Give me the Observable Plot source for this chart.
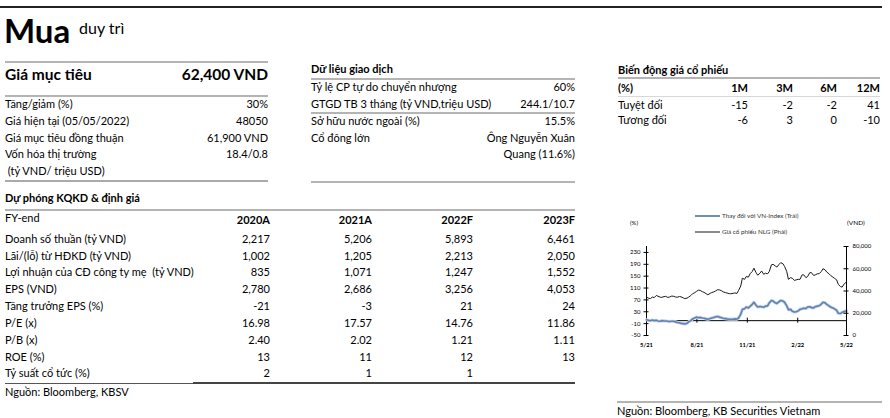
<!DOCTYPE html>
<html><head><meta charset="utf-8">
<script src="https://cdn.jsdelivr.net/npm/d3@7"></script>
<script src="https://cdn.jsdelivr.net/npm/@observablehq/plot@0.6"></script>
<style>
body{margin:0;background:#fff;}
#page{position:relative;width:890px;height:418px;overflow:hidden;font-family:Lato,"Open Sans",sans-serif;color:#000;background:#fff;}
.t{position:absolute;white-space:pre;}
.rule{position:absolute;}
#chartL,#chartR{position:absolute;left:615px;top:238px;}
</style></head><body><div id="page"></div>
<script>
// ---------- DATA ----------
const ratingTitle = "Mua";
const ratingNote = "duy trì";
const targetLabel = "Giá mục tiêu";
const targetValue = "62,400 VND";
const summaryLabels = ["Tăng/giảm (%)", "Giá hiện tại (05/05/2022)", "Giá mục tiêu đồng thuận", "Vốn hóa thị trường", " (tỷ VND/ triệu USD)"];
const summaryValues = ["30%", "48050", "61,900 VND", "18.4/0.8", ""];

const tradingTitle = "Dữ liệu giao dịch";
const tradingLabels = ["Tỷ lệ CP tự do chuyển nhượng", "GTGD TB 3 tháng (tỷ VND,triệu USD)", "Sở hữu nước ngoài (%)", "Cổ đông lớn", ""];
const tradingValues = ["60%", "244.1/10.7", "15.5%", "Ông Nguyễn Xuân", "Quang (11.6%)"];

const perfTitle = "Biến động giá cổ phiếu";
const perfHeaders = ["(%)", "1M", "3M", "6M", "12M"];
const perfRowLabels = ["Tuyệt đối", "Tương đối"];
const perfAbsolute = ["-15", "-2", "-2", "41"];
const perfRelative = ["-6", "3", "0", "-10"];

const forecastTitle = "Dự phóng KQKD & định giá";
const forecastHeader = "FY-end";
const fyYears = ["2020A", "2021A", "2022F", "2023F"];
const forecastLabels = ["Doanh số thuần (tỷ VND)", "Lãi/(lỗ) từ HĐKD (tỷ VND)", "Lợi nhuận của CĐ công ty mẹ  (tỷ VND)", "EPS (VND)", "Tăng trưởng EPS (%)", "P/E (x)", "P/B (x)", "ROE (%)", "Tỷ suất cổ tức (%)"];
const val2020A = ["2,217", "1,002", "835", "2,780", "-21", "16.98", "2.40", "13", "2"];
const val2021A = ["5,206", "1,205", "1,071", "2,686", "-3", "17.57", "2.02", "11", "1"];
const val2022F = ["5,893", "2,213", "1,247", "3,256", "21", "14.76", "1.21", "12", "1"];
const val2023F = ["6,461", "2,050", "1,552", "4,053", "24", "11.86", "1.11", "13", ""];
const sourceLeft = "Nguồn: Bloomberg, KBSV";
const sourceRight = "Nguồn: Bloomberg, KB Securities Vietnam";

// chart series
const dates = [
 "2021-05-05","2021-05-09","2021-05-12","2021-05-16","2021-05-19","2021-05-23","2021-05-26","2021-05-30",
 "2021-06-02","2021-06-06","2021-06-09","2021-06-13","2021-06-16","2021-06-20","2021-06-23","2021-06-27","2021-06-30",
 "2021-07-04","2021-07-07","2021-07-11","2021-07-14","2021-07-18","2021-07-21","2021-07-25","2021-07-28",
 "2021-08-01","2021-08-04","2021-08-08","2021-08-11","2021-08-15","2021-08-18","2021-08-22","2021-08-25","2021-08-29",
 "2021-09-01","2021-09-05","2021-09-08","2021-09-12","2021-09-15","2021-09-19","2021-09-22","2021-09-26","2021-09-29",
 "2021-10-03","2021-10-06","2021-10-10","2021-10-13","2021-10-17","2021-10-20","2021-10-24","2021-10-27","2021-10-31",
 "2021-11-03","2021-11-07","2021-11-10","2021-11-14","2021-11-17","2021-11-21","2021-11-24","2021-11-28",
 "2021-12-01","2021-12-05","2021-12-08","2021-12-12","2021-12-15","2021-12-19","2021-12-22","2021-12-26","2021-12-29",
 "2022-01-02","2022-01-05","2022-01-09","2022-01-12","2022-01-16","2022-01-19","2022-01-23","2022-01-26","2022-01-30",
 "2022-02-02","2022-02-06","2022-02-09","2022-02-13","2022-02-16","2022-02-20","2022-02-23","2022-02-27",
 "2022-03-02","2022-03-06","2022-03-09","2022-03-13","2022-03-16","2022-03-20","2022-03-23","2022-03-27","2022-03-30",
 "2022-04-03","2022-04-06","2022-04-10","2022-04-13","2022-04-17","2022-04-20","2022-04-24","2022-04-27",
 "2022-05-01","2022-05-05"];
const priceNLG = [
 34500,33500,33200,34600,34000,36000,35300,34400,
 34300,35000,35200,34200,34600,35400,35300,34600,34400,
 35000,34800,33800,33200,33600,34500,36000,37500,
 38500,39600,40800,40500,39400,38800,37500,36600,37800,
 38600,39200,40000,41200,41000,40200,39200,38600,38200,
 37600,37500,37900,38300,37800,40500,44500,51500,50500,
 53000,52500,55500,57500,60500,56500,54200,56000,
 58000,55000,56000,55500,57500,63500,64000,62500,61500,
 64000,65500,64500,62000,57500,50500,52000,51500,49500,
 50000,50500,50400,54500,54500,52000,53000,56500,
 56500,54000,54500,55500,55500,57500,60000,59000,57000,
 55500,54000,52500,51500,50000,46000,44000,43500,
 46500,48050];
const relVnIndex = [
 3,1,0,2,0,1,-1,-2,
 0,-1,-1,-2,-3,-2,-2,-4,-6,
 -7,-9,-10,-11,-9,-4,0,6,
 9,12,10,11,9,8,6,5,7,
 9,11,13,14,12,10,8,7,6,
 5,5,5,6,5,9,22,38,40,
 46,43,48,55,62,52,46,48,
 47,45,49,50,60,68,66,60,58,
 64,68,66,62,50,37,38,32,29,
 30,33,38,40,42,41,46,47,
 44,43,47,49,50,56,62,60,55,
 50,46,43,40,35,25,24,28,
 31,33];
const leftTicks = [-50, -10, 30, 70, 110, 150, 190, 230];
const leftDomain = [-50, 250];
const rightTicks = [0, 20000, 40000, 60000, 80000];
const rightDomain = [0, 80000];
const dateTickStrings = ["2021-05-05", "2021-08-05", "2021-11-05", "2022-02-05", "2022-05-05"];
const legendLabels = ["Thay đổi với VN-Index (Trái)", "Giá cổ phiếu NLG (Phải)"];
const leftUnit = "(%)";
const rightUnit = "(VND)";

// ---------- HELPERS ----------
const page = document.getElementById("page");
const BASE = 11;
function text(s, x, y, o = {}) {
  const d = document.createElement("div");
  d.className = "t";
  d.textContent = s;
  const fs = o.size || BASE;
  const lh = Math.round(fs * 1.3);
  d.style.fontSize = fs + "px";
  d.style.lineHeight = lh + "px";
  d.style.top = (y - lh / 2) + "px";
  if (o.align === "right") { d.style.left = (x - 400) + "px"; d.style.width = "400px"; d.style.textAlign = "right"; }
  else d.style.left = x + "px";
  if (o.weight) d.style.fontWeight = o.weight;
  if (o.color) d.style.color = o.color;
  page.appendChild(d);
}
function rule(x1, x2, y, h, color) {
  const d = document.createElement("div");
  d.className = "rule";
  d.style.left = x1 + "px"; d.style.width = (x2 - x1) + "px";
  d.style.top = (y - h / 2) + "px"; d.style.height = h + "px";
  d.style.background = color;
  page.appendChild(d);
}
const GRAY = "#b4b4b4";

// ---------- HEADER ----------
rule(0, 882, 7, 1.2, "#222");
text(ratingTitle, 4, 30, {size: 33, weight: 700});
text(ratingNote, 79, 27, {size: 16});

// ---------- LEFT BLOCK ----------
rule(5, 268, 62, 1.5, GRAY);
text(targetLabel, 5, 74, {size: 15.5, weight: 700});
text(targetValue, 268, 74, {size: 15.5, weight: 700, align: "right"});
rule(5, 268, 96, 1.5, GRAY);
const leftRowsY = [104, 121, 138, 154, 171];
summaryLabels.forEach((s, i) => { text(s, 5, leftRowsY[i]); text(summaryValues[i], 268, leftRowsY[i], {align: "right"}); });
rule(5, 268, 181, 2, "#aaa");

// ---------- MIDDLE BLOCK ----------
text(tradingTitle, 311, 69, {weight: 700});
rule(311, 575, 79, 1.5, GRAY);
const midRowsY = [87, 104, 121, 138, 154];
tradingLabels.forEach((s, i) => { text(s, 311, midRowsY[i]); text(tradingValues[i], 575, midRowsY[i], {align: "right"}); });
rule(311, 575, 113, 1.2, GRAY);
rule(311, 575, 182, 1.5, GRAY);

// ---------- RIGHT BLOCK ----------
text(perfTitle, 618, 70, {weight: 700});
rule(618, 880, 78, 1.5, GRAY);
const perfColX = [748, 793, 837, 880];
text(perfHeaders[0], 618, 88, {weight: 700});
perfHeaders.slice(1).forEach((h, i) => text(h, perfColX[i], 88, {weight: 700, align: "right"}));
rule(618, 880, 96.5, 1, "#d8d8d8");
text(perfRowLabels[0], 618, 105);
perfAbsolute.forEach((v, i) => text(v, perfColX[i], 105, {align: "right"}));
text(perfRowLabels[1], 618, 120);
perfRelative.forEach((v, i) => text(v, perfColX[i], 120, {align: "right"}));

// ---------- FORECAST TABLE ----------
text(forecastTitle, 5, 198, {weight: 700});
rule(5, 575, 210, 2, GRAY);
const colX = [270, 372, 473, 575];
text(forecastHeader, 5, 218);
fyYears.forEach((y, i) => text(y, colX[i], 220, {weight: 700, align: "right"}));
const rowsY = [239, 256, 272, 289, 306, 323, 340, 357, 373];
const cols = [val2020A, val2021A, val2022F, val2023F];
forecastLabels.forEach((s, r) => {
  text(s, 5, rowsY[r]);
  cols.forEach((c, i) => text(c[r], colX[i], rowsY[r], {align: "right"}));
});
rule(5, 193, 383, 1, "#555");
rule(193, 575, 383, 2, "#444");
text(sourceLeft, 5, 392);

// ---------- BOTTOM RIGHT SOURCE ----------
rule(617, 882, 402, 1.2, GRAY);
text(sourceRight, 617, 411);

// ---------- CHART ----------
const data = dates.map((d, i) => ({date: new Date(d), rel: relVnIndex[i], price: priceNLG[i]}));
const dateTicks = dateTickStrings.map(s => new Date(s));
const xDomain = [dateTicks[0], dateTicks[dateTicks.length - 1]];
const W = 265, H = 117;
const common = {width: W, height: H, marginLeft: 31, marginRight: 34, marginTop: 8, marginBottom: 20,
  style: {fontFamily: "Lato, sans-serif", fontSize: "6px", background: "transparent", overflow: "visible", color: "#000"}};

const chartL = Plot.plot({
  ...common,
  x: {type: "utc", domain: xDomain},
  y: {domain: leftDomain},
  marks: [
    Plot.ruleX([xDomain[0]], {stroke: "#000", strokeWidth: 1}),
    Plot.ruleY(leftTicks, {y: d => d, x1: xDomain[0], x2: xDomain[0], insetLeft: -2.5, insetRight: -2.5, stroke: "#000"}),
    Plot.axisY({ticks: leftTicks, tickSize: 0, tickPadding: 6, tickFormat: d => String(d), fontSize: 6, label: null}),
    Plot.ruleY([0], {stroke: "#000", strokeWidth: 1}),
    Plot.ruleX(dateTicks, {x: d => d, y1: 0, y2: 0, insetTop: -2.5, insetBottom: -2.5, stroke: "#000"}),
    Plot.line(data, {x: "date", y: "rel", stroke: "#c9d6ea", strokeWidth: 3.2}),
    Plot.line(data, {x: "date", y: "rel", stroke: "#5f82b0", strokeWidth: 1.6}),
    Plot.axisX({ticks: dateTicks, tickSize: 0, tickPadding: 7, tickFormat: d3.utcFormat("%-m/%y"), fontWeight: "bold", fontSize: 5.8, label: null})
  ]
});
chartL.id = "chartL";

const chartR = Plot.plot({
  ...common,
  x: {type: "utc", domain: xDomain, axis: null},
  y: {domain: rightDomain},
  marks: [
    Plot.ruleX([xDomain[1]], {stroke: "#000", strokeWidth: 1}),
    Plot.ruleY(rightTicks, {y: d => d, x1: xDomain[1], x2: xDomain[1], insetLeft: -2.5, insetRight: -2.5, stroke: "#000"}),
    Plot.axisY({anchor: "right", ticks: rightTicks, tickSize: 0, tickPadding: 6, tickFormat: d3.format(","), fontSize: 6, label: null}),
    Plot.line(data, {x: "date", y: "price", stroke: "#1a1a1a", strokeWidth: 1})
  ]
});
chartR.id = "chartR";
page.appendChild(chartL);
page.appendChild(chartR);

// legend & units
rule(695, 720, 216, 2, "#6f8fb8");
text(legendLabels[0], 722, 216, {size: 6.3, color: "#333"});
rule(695, 720, 232, 2, "#8a8a8a");
text(legendLabels[1], 722, 232, {size: 6.3, color: "#333"});
text(leftUnit, 630, 223, {size: 6});
text(rightUnit, 847, 223, {size: 6.5});
</script></body></html>
